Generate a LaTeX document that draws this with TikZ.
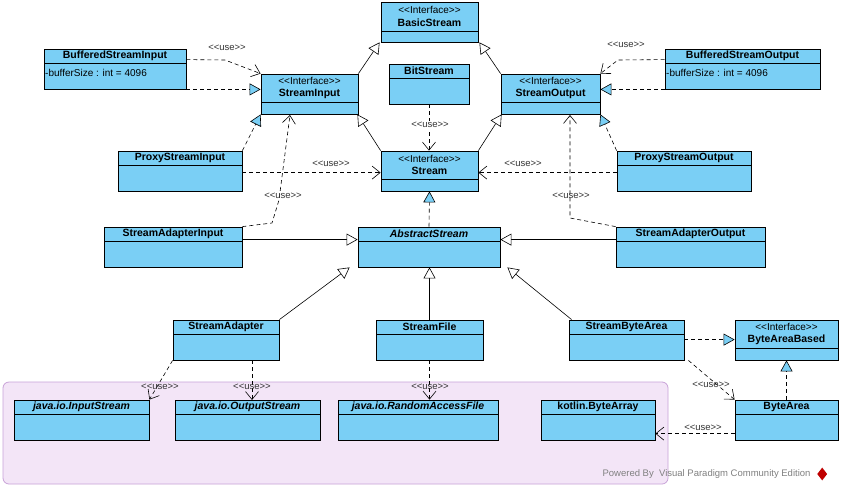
\documentclass[tikz,border=0pt]{standalone}
\usepackage{fontspec}
\setmainfont{Liberation Sans}
\usetikzlibrary{arrows.meta,shapes.geometric}
\definecolor{boxblue}{HTML}{7ACFF5}
\definecolor{pkgfill}{HTML}{F3E5F7}
\definecolor{pkgdraw}{HTML}{C8A2D8}
\tikzset{
  x=1pt,y=1pt,
  cls/.style={draw=black,fill=boxblue,inner sep=0pt,line width=0.8pt},
  ttl/.style={font=\fontsize{10.5}{12.5}\selectfont\bfseries,align=center,inner sep=0pt},
  lbl/.style={font=\fontsize{9.5}{10}\selectfont,inner sep=0pt,text=black!80},
  gen/.style={line width=0.6pt,-{Triangle[open,length=11pt,width=12pt,fill=white]}},
  real/.style={line width=0.6pt,dash pattern=on 4pt off 3pt,-{Triangle[length=11pt,width=12pt,fill=boxblue]}},
  use/.style={line width=0.6pt,dash pattern=on 4pt off 3pt,-{Straight Barb[length=8pt,width=13pt]}},
}
\newcommand\umlcls[7]{%
  \node[cls,minimum width={(#4-#2)*1pt},minimum height={(#5-#3)*1pt}] (#1) at ({(#2+#4)/2},{-(#3+#5)/2}) {};
  \draw[line width=0.8pt] (#2,-#6) -- (#4,-#6);
  \node[ttl] at ({(#2+#4)/2},{-(#3+#6)/2}) {#7};}
\newcommand\iface[1]{{\fontsize{10}{12.5}\selectfont\mdseries <{}<Interface>{}>}\\#1}
\newcommand\uselbl{<{}<use>{}>}
\begin{document}
\begin{tikzpicture}
\useasboundingbox[fill=white] (0,0) rectangle (850,-490);
\draw[pkgdraw,fill=pkgfill,rounded corners=6pt,line width=0.8pt] (3,-382) rectangle (668,-484);
\node[font=\fontsize{9.5}{10}\selectfont,text=black!50,anchor=east] (pw) at (814,-474) {Powered By\ \ Visual Paradigm Community Edition};
\node[fill=red!75!black,diamond,inner sep=2.5pt,minimum height=13pt,anchor=west] (logo) at (817,-474) {};
\umlcls{bs}{381}{2}{478}{42}{31}{\iface{BasicStream}}
\umlcls{bsi}{44}{49}{186}{89}{63}{BufferedStreamInput}
\node[font=\fontsize{10}{11}\selectfont,anchor=west,inner sep=1pt] (bsia) at (44,-73) {-bufferSize : int = 4096};
\umlcls{si}{261}{74}{358}{114}{102}{\iface{StreamInput}}
\umlcls{bit}{389}{64}{469}{104}{78}{BitStream}
\umlcls{so}{501}{74}{600}{114}{102}{\iface{StreamOutput}}
\umlcls{bso}{665}{49}{820}{89}{63}{BufferedStreamOutput}
\node[font=\fontsize{10}{11}\selectfont,anchor=west,inner sep=1pt] (bsoa) at (665,-73) {-bufferSize : int = 4096};
\umlcls{psi}{118}{151}{242}{191}{165}{ProxyStreamInput}
\umlcls{st}{381}{151}{478}{191}{179}{\iface{Stream}}
\umlcls{pso}{617}{151}{751}{191}{165}{ProxyStreamOutput}
\umlcls{sai}{104}{227}{242}{267}{241}{StreamAdapterInput}
\umlcls{as}{358}{227}{500}{267}{241}{\itshape AbstractStream}
\umlcls{sao}{616}{227}{765}{267}{241}{StreamAdapterOutput}
\umlcls{sa}{173}{320}{279}{360}{334}{StreamAdapter}
\umlcls{sf}{376}{320}{483}{360}{334}{StreamFile}
\umlcls{sba}{569}{320}{684}{360}{334}{StreamByteArea}
\umlcls{bab}{735}{320}{838}{360}{348}{\iface{ByteAreaBased}}
\umlcls{ba}{735}{400}{838}{440}{414}{ByteArea}
\umlcls{jis}{14}{400}{149}{440}{414}{\itshape java.io.InputStream}
\umlcls{jos}{175}{400}{320}{440}{414}{\itshape java.io.OutputStream}
\umlcls{raf}{338}{400}{498}{440}{414}{\itshape java.io.RandomAccessFile}
\umlcls{kba}{541}{400}{655}{440}{414}{kotlin.ByteArray}
% generalizations
\draw[gen] (si.north east) -- ([xshift=-1pt]bs.south west);
\draw[gen] (so.north west) -- ([xshift=1pt]bs.south east);
\draw[gen] (st.north west) -- ([xshift=-1pt]si.south east);
\draw[gen] (st.north east) -- ([xshift=1pt]so.south west);
\draw[gen] ([yshift=-13pt]sai.north east) -- ([yshift=-13pt]as.north west);
\draw[gen] ([yshift=-13pt]sao.north west) -- ([yshift=-13pt]as.north east);
\draw[gen] (sa.north east) -- ([xshift=-8pt]as.south west);
\draw[gen] (sf.north) -- (sf.north|-as.south);
\draw[gen] ([xshift=3pt]sba.north west) -- ([xshift=7pt]as.south east);
% realizations
\draw[real] (bsi.south east) -- (bsi.south east-|si.west);
\draw[real] (psi.north east) -- (si.south west);
\draw[real] (as.north) -- (st.south);
\draw[real] (bso.south west) -- (bso.south west-|so.east);
\draw[real] (pso.north west) -- (so.south east);
\draw[real] ([yshift=-20pt]sba.north east) -- ([yshift=-20pt]bab.north west);
\draw[real] (ba.north) -- (bab.south);
% uses
\draw[use] ([yshift=-11pt]bsi.north east) -- (225,-60) -- (si.north west);
\node[lbl] (l1) at (227,-48) {\uselbl};
\draw[use] ([yshift=-22pt]psi.north east) -- ([yshift=-22pt]st.north west);
\node[lbl] (l2) at (331,-164) {\uselbl};
\draw[use] (sai.north east) -- (272,-223) -- (279,-200) -- (290,-115);
\node[lbl] (l3) at (283,-196) {\uselbl};
\draw[use] (bit.south) -- (bit.south|-st.north);
\node[lbl,fill=white,inner sep=1pt] (l4) at (430,-125) {\uselbl};
\draw[use] ([yshift=-22pt]pso.north west) -- ([yshift=-22pt]st.north east);
\node[lbl] (l5) at (523,-164) {\uselbl};
\draw[use] ([yshift=-11pt]bso.north west) -- (618,-60) -- (so.north east);
\node[lbl] (l6) at (626,-45) {\uselbl};
\draw[use] (sao.north west) -- (570,-218) -- (570,-115);
\node[lbl] (l7) at (571,-196) {\uselbl};
\draw[use] (sa.south west) -- (jis.north east);
\node[lbl] (l8) at (160,-387) {\uselbl};
\draw[use] (252,-360) -- (252,-400);
\node[lbl] (l9) at (252,-387) {\uselbl};
\draw[use] (sf.south) -- (sf.south|-raf.north);
\node[lbl] (l10) at (430,-387) {\uselbl};
\draw[use] ([xshift=4pt]sba.south east) -- (ba.north west);
\node[lbl] (l11) at (711,-385) {\uselbl};
\draw[use] ([yshift=-34pt]ba.north west) -- ([yshift=-34pt]kba.north east);
\node[lbl] (l12) at (703,-428) {\uselbl};
\end{tikzpicture}
\end{document}
